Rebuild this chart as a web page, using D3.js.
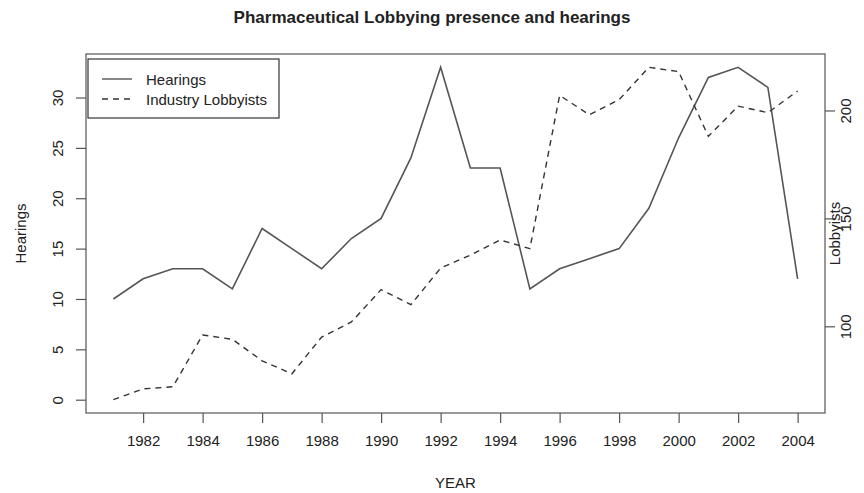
<!DOCTYPE html>
<html>
<head>
<meta charset="utf-8">
<script src="https://cdn.jsdelivr.net/npm/d3@7"></script>
<style>
    body { margin: 0; background: #fff; }
    svg { display: block; font-family: "Liberation Sans", Arial, sans-serif; }
</style>
</head>
<body>
<script>
// Data
const years = d3.range(1981, 2005);
const hearings = [10, 12, 13, 13, 11, 17, 15, 13, 16, 18, 24, 33, 23, 23, 11, 13, 14, 15, 19, 26, 32, 33, 31, 12];
const lobbyists = [66, 71, 72, 96, 94, 84, 78, 95, 102, 117, 110, 127, 133, 140, 136, 207, 198, 205, 220, 218, 188, 202, 199, 209];
const yearTicks = d3.range(1982, 2005, 2);
const hearingTicks = [0, 5, 10, 15, 20, 25, 30];
const lobbyTicks = [100, 150, 200];

const width = 864, height = 493;
const box = { left: 86, right: 825, top: 54, bottom: 413 };

// R style 4% padding of the data range
const pad = (lo, hi) => [lo - (hi - lo) * 0.04, hi + (hi - lo) * 0.04];

const x = d3.scaleLinear().domain(pad(1981, 2004)).range([box.left, box.right]);
const yH = d3.scaleLinear().domain(pad(0, d3.max(hearings))).range([box.bottom, box.top]);
const yL = d3.scaleLinear().domain(pad(d3.min(lobbyists), d3.max(lobbyists))).range([box.bottom, box.top]);

const svg = d3.select('body').append('svg')
    .attr('width', width)
    .attr('height', height);

const ink = "#222";
const axisCol = "#555";

// Lines
const lineH = d3.line().x((d, i) => x(years[i])).y(d => yH(d));
const lineL = d3.line().x((d, i) => x(years[i])).y(d => yL(d));

svg.append("path")
    .attr("d", lineH(hearings))
    .attr("fill", "none")
    .attr("stroke", "#555")
    .attr("stroke-width", 1.6);

svg.append("path")
    .attr("d", lineL(lobbyists))
    .attr("fill", "none")
    .attr("stroke", "#333")
    .attr("stroke-width", 1.4)
    .attr("stroke-dasharray", "6,5");

// Box
svg.append("rect")
    .attr("x", box.left)
    .attr("y", box.top)
    .attr("width", box.right - box.left)
    .attr("height", box.bottom - box.top)
    .attr("fill", "none")
    .attr("stroke", axisCol)
    .attr("stroke-width", 1.2);

// Axes
const styleAxis = (g) => {
    g.select(".domain").remove();
    g.selectAll(".tick line").attr("stroke", axisCol).attr("stroke-width", 1.2);
    g.selectAll(".tick text").attr("fill", ink).style("font-size", "15px").style("font-family", "Liberation Sans, Arial, sans-serif");
};

svg.append("g")
    .attr("transform", `translate(0, ${box.bottom})`)
    .call(d3.axisBottom(x).tickValues(yearTicks).tickFormat(d3.format("d")).tickSize(10).tickPadding(12))
    .call(styleAxis);

svg.append("g")
    .attr("transform", `translate(${box.left}, 0)`)
    .call(d3.axisLeft(yH).tickValues(hearingTicks).tickSize(10).tickPadding(0))
    .call(styleAxis)
    .call(g => g.selectAll(".tick text")
        .attr("x", null).attr("dy", null)
        .attr("text-anchor", "middle")
        .attr("dominant-baseline", "central")
        .attr("transform", "translate(-29,0) rotate(-90)"));

svg.append("g")
    .attr("transform", `translate(${box.right}, 0)`)
    .call(d3.axisRight(yL).tickValues(lobbyTicks).tickSize(10).tickPadding(0))
    .call(styleAxis)
    .call(g => g.selectAll(".tick text")
        .attr("x", null).attr("dy", null)
        .attr("text-anchor", "middle")
        .attr("dominant-baseline", "central")
        .attr("transform", "translate(20,0) rotate(-90)"));

// Titles
svg.append("text")
    .attr("x", width / 2)
    .attr("y", 17)
    .attr("text-anchor", "middle")
    .attr("dominant-baseline", "central")
    .attr("fill", ink)
    .style("font-size", "17px")
    .style("font-weight", "bold")
    .text("Pharmaceutical Lobbying presence and hearings");

svg.append("text")
    .attr("x", (box.left + box.right) / 2)
    .attr("y", 482)
    .attr("text-anchor", "middle")
    .attr("dominant-baseline", "central")
    .attr("fill", ink)
    .style("font-size", "15px")
    .text("YEAR");

svg.append("text")
    .attr("transform", `translate(20, ${(box.top + box.bottom) / 2}) rotate(-90)`)
    .attr("text-anchor", "middle")
    .attr("dominant-baseline", "central")
    .attr("fill", ink)
    .style("font-size", "15px")
    .text("Hearings");

svg.append("text")
    .attr("transform", `translate(834, ${(box.top + box.bottom) / 2}) rotate(-90)`)
    .attr("text-anchor", "middle")
    .attr("dominant-baseline", "central")
    .attr("fill", ink)
    .style("font-size", "15px")
    .text("Lobbyists");

// Legend
const legend = svg.append("g").attr("transform", "translate(88, 59)");
legend.append("rect")
    .attr("width", 191)
    .attr("height", 59)
    .attr("fill", "#fff")
    .attr("stroke", "#333")
    .attr("stroke-width", 1.2);

const legendItems = [
    { label: "Hearings", stroke: "#555", dash: null, y: 20 },
    { label: "Industry Lobbyists", stroke: "#333", dash: "6,5", y: 40 }
];
legendItems.forEach(it => {
    legend.append("line")
        .attr("x1", 14).attr("x2", 44)
        .attr("y1", it.y).attr("y2", it.y)
        .attr("stroke", it.stroke)
        .attr("stroke-width", 1.4)
        .attr("stroke-dasharray", it.dash);
    legend.append("text")
        .attr("x", 58)
        .attr("y", it.y)
        .attr("dominant-baseline", "central")
        .attr("fill", ink)
        .style("font-size", "15px")
        .text(it.label);
});
</script>
</body>
</html>
